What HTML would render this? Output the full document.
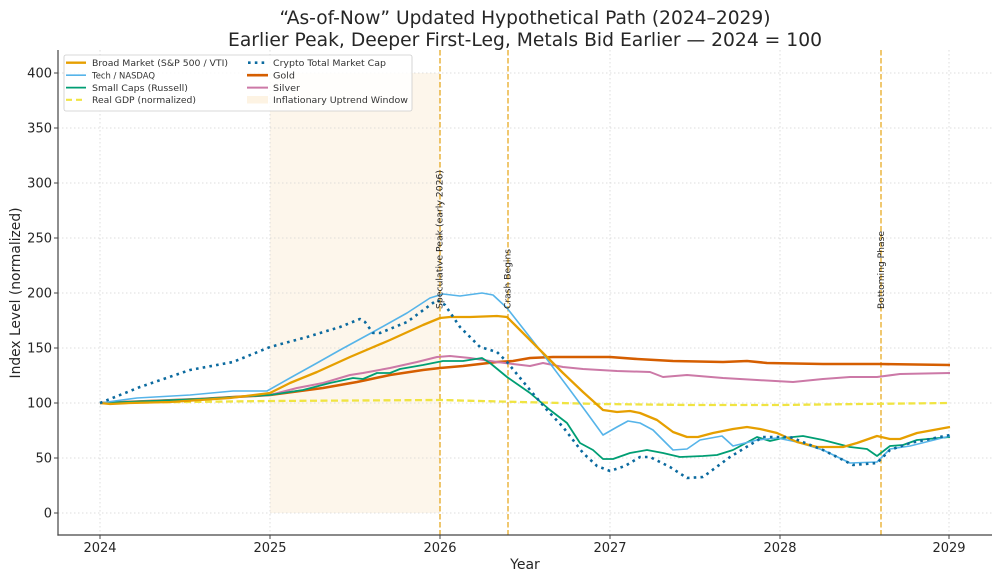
<!DOCTYPE html>
<html><head><meta charset="utf-8"><style>
html,body{margin:0;padding:0;background:#fff;}
svg{display:block;font-family:"DejaVu Sans","Liberation Sans",sans-serif;}
</style></head><body>
<svg width="1000" height="580" viewBox="0 0 1000 580" xmlns="http://www.w3.org/2000/svg">
<rect width="1000" height="580" fill="#fff"/>
<text x="525" y="24" font-size="19" text-anchor="middle" fill="#262626" textLength="491" lengthAdjust="spacingAndGlyphs">“As-of-Now” Updated Hypothetical Path (2024–2029)</text>
<text x="525" y="46" font-size="19" text-anchor="middle" fill="#262626" textLength="594" lengthAdjust="spacingAndGlyphs">Earlier Peak, Deeper First-Leg, Metals Bid Earlier — 2024 = 100</text>
<rect x="270" y="73" width="170" height="440" fill="#fdf6eb"/>
<g stroke="#d4d4d4" stroke-width="0.8" stroke-dasharray="1.5 2.5">
<line x1="58" x2="992" y1="73" y2="73"/><line x1="58" x2="992" y1="128" y2="128"/>
<line x1="58" x2="992" y1="183" y2="183"/><line x1="58" x2="992" y1="238" y2="238"/>
<line x1="58" x2="992" y1="293" y2="293"/><line x1="58" x2="992" y1="348" y2="348"/>
<line x1="58" x2="992" y1="403" y2="403"/><line x1="58" x2="992" y1="458" y2="458"/>
<line x1="58" x2="992" y1="513" y2="513"/>
<line x1="100" x2="100" y1="50" y2="535"/><line x1="270" x2="270" y1="50" y2="535"/>
<line x1="440" x2="440" y1="50" y2="535"/><line x1="610" x2="610" y1="50" y2="535"/>
<line x1="780" x2="780" y1="50" y2="535"/><line x1="949" x2="949" y1="50" y2="535"/>
</g>
<g stroke="#E69F00" stroke-opacity="0.75" stroke-width="1.5" stroke-dasharray="5.5 2.5">
<line x1="440" x2="440" y1="50" y2="535"/>
<line x1="508" x2="508" y1="50" y2="535"/>
<line x1="881" x2="881" y1="50" y2="535"/>
</g>
<g fill="none" stroke-linejoin="round">
<polyline stroke="#F0E442" stroke-width="2.3" stroke-dasharray="7 3.5" points="100,403 270,401 440,400 520,402 600,404 690,405 780,405 860,404 950,403"/>
<polyline stroke="#D55E00" stroke-width="2.6" points="100,403 150,401 200,399 270,395 323,388 357,382 390,375 423,370 440,368 463,366 497,362 513,361 530,358 553,357 580,357 610,357 637,359 673,361 723,362 747,361 767,363 823,364 880,364 950,365"/>
<polyline stroke="#CC79A7" stroke-width="2" points="100,403 150,401 200,399 270,395 297,388 323,383 350,375 363,373 390,368 417,362 437,357 450,356 470,358 497,362 513,364 530,366 543,363 563,367 583,369 617,371 650,372 663,377 687,375 723,378 757,380 793,382 823,379 850,377 877,377 900,374 950,373"/>
<polyline stroke="#009E73" stroke-width="1.8" points="100,403 150,401 200,399 270,395 303,390 330,383 353,378 363,379 377,373 390,373 400,369 423,365 443,361 463,361 482,358 490,363 507,377 530,393 550,410 567,423 580,443 593,450 603,459 613,459 630,453 647,450 663,453 680,457 703,456 717,455 733,450 757,437 770,441 783,438 803,436 823,440 850,447 867,449 877,456 890,446 903,445 917,440 950,437"/>
<polyline stroke="#56B4E9" stroke-width="1.6" points="100,403 137,398 190,395 233,391 267,391 290,378 317,363 340,350 373,332 407,313 430,298 443,294 460,296 482,293 493,295 507,308 540,350 570,390 587,413 603,435 617,427 628,421 640,423 653,430 663,440 673,450 687,449 700,440 722,436 733,446 757,440 777,438 797,442 823,450 850,463 877,462 890,449 910,446 950,436"/>
<polyline stroke="#E69F00" stroke-width="2.3" points="100,403 110,404 130,403 170,402 230,398 270,393 290,383 317,372 350,357 390,340 423,325 440,318 450,317 470,317 497,316 507,317 520,330 540,350 563,373 583,392 603,410 617,412 630,411 640,413 657,420 673,432 687,437 698,437 713,433 733,429 747,427 760,429 777,433 797,442 817,447 843,447 857,443 877,436 890,439 900,439 917,433 950,427"/>
<polyline stroke="#0b6a9f" stroke-width="2.6" stroke-dasharray="2.6 4.2" points="100,403 140,387 190,370 233,362 270,347 307,337 340,327 360,319 365,322 373,333 380,333 407,322 437,300 445,305 460,327 480,347 497,352 507,362 530,390 547,410 563,427 583,453 597,466 610,471 625,466 640,457 650,457 670,467 687,478 703,477 730,457 763,437 790,437 823,450 853,465 877,463 890,450 910,443 950,435"/>
</g>
<g font-size="9" fill="#222">
<text transform="translate(442.5,309) rotate(-90)" textLength="139" lengthAdjust="spacingAndGlyphs">Speculative Peak (early 2026)</text>
<text transform="translate(510.5,309) rotate(-90)" textLength="60" lengthAdjust="spacingAndGlyphs">Crash Begins</text>
<text transform="translate(884,309) rotate(-90)" textLength="78" lengthAdjust="spacingAndGlyphs">Bottoming Phase</text>
</g>
<g stroke="#444" stroke-width="1.2">
<line x1="58" x2="58" y1="50" y2="535.6"/>
<line x1="57.4" x2="992" y1="535" y2="535"/>
</g>
<g stroke="#444" stroke-width="1">
<line x1="54" x2="58" y1="73" y2="73"/><line x1="54" x2="58" y1="128" y2="128"/>
<line x1="54" x2="58" y1="183" y2="183"/><line x1="54" x2="58" y1="238" y2="238"/>
<line x1="54" x2="58" y1="293" y2="293"/><line x1="54" x2="58" y1="348" y2="348"/>
<line x1="54" x2="58" y1="403" y2="403"/><line x1="54" x2="58" y1="458" y2="458"/>
<line x1="54" x2="58" y1="513" y2="513"/>
<line x1="100" x2="100" y1="535" y2="539"/><line x1="270" x2="270" y1="535" y2="539"/>
<line x1="440" x2="440" y1="535" y2="539"/><line x1="610" x2="610" y1="535" y2="539"/>
<line x1="780" x2="780" y1="535" y2="539"/><line x1="949" x2="949" y1="535" y2="539"/>
</g>
<g font-size="13" fill="#262626" text-anchor="end">
<text x="52" y="77.5">400</text><text x="52" y="132.5">350</text><text x="52" y="187.5">300</text>
<text x="52" y="242.5">250</text><text x="52" y="297.5">200</text><text x="52" y="352.5">150</text>
<text x="52" y="407.5">100</text><text x="52" y="462.5">50</text><text x="52" y="517.5">0</text>
</g>
<g font-size="13" fill="#262626" text-anchor="middle">
<text x="100" y="552">2024</text><text x="270" y="552">2025</text><text x="440" y="552">2026</text>
<text x="610" y="552">2027</text><text x="780" y="552">2028</text><text x="949" y="552">2029</text>
</g>
<text x="525" y="569" font-size="14" fill="#262626" text-anchor="middle">Year</text>
<text transform="translate(20,293) rotate(-90)" font-size="14" fill="#262626" text-anchor="middle" textLength="171" lengthAdjust="spacingAndGlyphs">Index Level (normalized)</text>
<rect x="64" y="55" width="348" height="56" rx="2" fill="#fff" fill-opacity="0.85" stroke="#cccccc" stroke-width="0.8"/>
<g fill="none">
<line x1="66" x2="86" y1="62.7" y2="62.7" stroke="#E69F00" stroke-width="2.3"/>
<line x1="66" x2="86" y1="75.2" y2="75.2" stroke="#56B4E9" stroke-width="1.6"/>
<line x1="66" x2="86" y1="87.6" y2="87.6" stroke="#009E73" stroke-width="1.8"/>
<line x1="66" x2="86" y1="99.8" y2="99.8" stroke="#F0E442" stroke-width="2.2" stroke-dasharray="6 4"/>
<line x1="248" x2="268" y1="62.7" y2="62.7" stroke="#0b6a9f" stroke-width="2.6" stroke-dasharray="2.6 4.2"/>
<line x1="247" x2="268" y1="75.2" y2="75.2" stroke="#D55E00" stroke-width="2.6"/>
<line x1="247" x2="268" y1="87.6" y2="87.6" stroke="#CC79A7" stroke-width="2"/>
</g>
<rect x="247" y="96" width="21" height="7.5" fill="#fdf3e3"/>
<g font-size="9.2" fill="#333">
<text x="92" y="66" textLength="136" lengthAdjust="spacingAndGlyphs">Broad Market (S&amp;P 500 / VTI)</text>
<text x="92" y="78.5" textLength="63" lengthAdjust="spacingAndGlyphs">Tech / NASDAQ</text>
<text x="92" y="91" textLength="96" lengthAdjust="spacingAndGlyphs">Small Caps (Russell)</text>
<text x="92" y="103" textLength="104" lengthAdjust="spacingAndGlyphs">Real GDP (normalized)</text>
<text x="273" y="66" textLength="113" lengthAdjust="spacingAndGlyphs">Crypto Total Market Cap</text>
<text x="273" y="78.5" textLength="22" lengthAdjust="spacingAndGlyphs">Gold</text>
<text x="273" y="91" textLength="27" lengthAdjust="spacingAndGlyphs">Silver</text>
<text x="273" y="103" textLength="135" lengthAdjust="spacingAndGlyphs">Inflationary Uptrend Window</text>
</g>
</svg>
</body></html>
